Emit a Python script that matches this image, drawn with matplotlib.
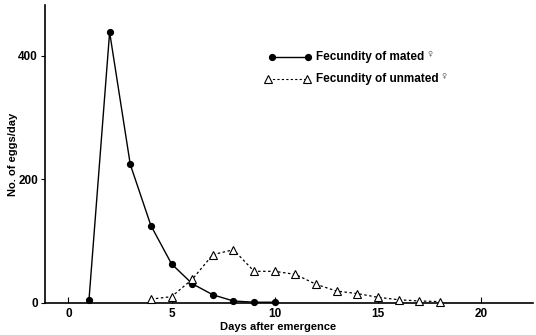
import matplotlib.pyplot as plt

plt.rcParams['font.family'] = ['Liberation Sans', 'DejaVu Sans']
plt.rcParams['font.weight'] = 'bold'

days_mated = [1, 2, 3, 4, 5, 6, 7, 8, 9, 10]
eggs_mated = [5, 438, 224, 125, 63, 31, 13, 3, 1, 1]

days_unmated = [4, 5, 6, 7, 8, 9, 10, 11, 12, 13, 14, 15, 16, 17, 18]
eggs_unmated = [6, 10, 38, 78, 86, 51, 51, 46, 30, 19, 15, 9, 5, 3, 2]

x_ticks = [0, 5, 10, 15, 20]
y_ticks = [0, 200, 400]

fig = plt.figure(figsize=(5.36, 3.35), dpi=100)
ax = fig.add_axes([0.084, 0.096, 0.91, 0.889])

ax.plot(days_mated, eggs_mated, color='black', lw=1.0, marker='o',
        markersize=4.2, clip_on=False, zorder=3)
ax.plot(days_unmated, eggs_unmated, color='black', lw=0.9, ls=(0, (2, 2)),
        marker='^', markersize=6, markerfacecolor='white',
        markeredgewidth=0.8, clip_on=False, zorder=3)

ax.set_xlim(-1.13, 22.5)
ax.set_ylim(0, 482)
ax.set_xticks(x_ticks)
ax.set_yticks(y_ticks)
ax.tick_params(axis='x', direction='in', length=4, labelsize=8.5, pad=4)
ax.tick_params(axis='y', direction='out', length=3, labelsize=8.5, pad=2)
for s in ['top', 'right']:
    ax.spines[s].set_visible(False)
ax.spines['left'].set_linewidth(1.2)
ax.spines['bottom'].set_linewidth(1.2)

ax.set_xlabel('Days after emergence', fontsize=8, fontweight='bold')
ax.xaxis.set_label_coords(0.477, -0.065)
ax.set_ylabel('No. of eggs/day', fontsize=8, fontweight='bold')
ax.yaxis.set_label_coords(-0.055, 0.5)

# legend drawn by hand
ax.plot([9.86, 11.6], [398, 398], color='black', lw=1.0, marker='o',
        markersize=4.2)
ax.plot([9.66, 11.55], [362, 362], color='black', lw=0.8, ls=(0, (2, 2)),
        marker='^', markersize=6, markerfacecolor='white',
        markeredgewidth=0.8)
t1 = ax.text(12.0, 398, 'Fecundity of mated', fontsize=8.5, va='center',
             fontweight='bold')
t2 = ax.text(12.0, 362, 'Fecundity of unmated', fontsize=8.5, va='center',
             fontweight='bold')
for t in (t1, t2):
    ax.annotate('♀', xy=(1, 0.55), xycoords=t, xytext=(2, 0),
                textcoords='offset points', fontsize=5, color='0.4',
                va='bottom', family=['DejaVu Sans'])

fig.savefig('out.png', dpi=100)
